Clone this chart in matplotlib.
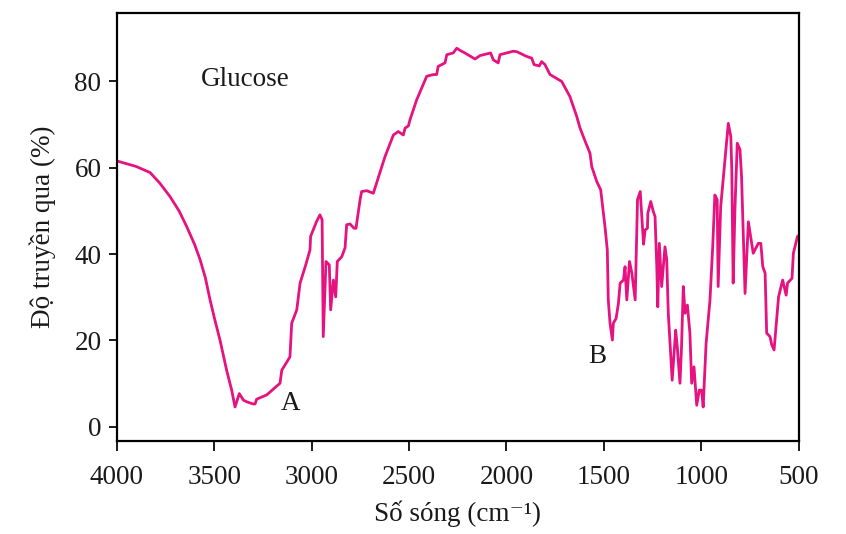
import matplotlib
matplotlib.use("Agg")
import matplotlib.pyplot as plt

plt.rcParams['font.family'] = ['Liberation Serif', 'DejaVu Serif']

# so song (cm-1) va do truyen qua (%) doc tu pho IR cua glucose
so_song = [4000, 3900, 3829, 3780, 3726, 3680, 3641, 3600, 3572, 3545, 3521, 3495,
           3470, 3436, 3410, 3393, 3371, 3350, 3333, 3300, 3290, 3282, 3230, 3162,
           3153, 3130, 3111, 3102, 3076, 3059, 3030, 3008, 3005, 2975, 2957, 2946,
           2940, 2926, 2915, 2909, 2902, 2888, 2876, 2868, 2845, 2828, 2820, 2803,
           2782, 2772, 2751, 2743, 2717, 2683, 2623, 2580, 2555, 2529, 2520, 2503,
           2495, 2460, 2409, 2375, 2358, 2350, 2315, 2306, 2273, 2255, 2238, 2213,
           2161, 2135, 2081, 2067, 2042, 2033, 1965, 1947, 1896, 1870, 1858, 1831,
           1819, 1802, 1776, 1716, 1674, 1639, 1622, 1590, 1571, 1562, 1536, 1516,
           1494, 1482, 1477, 1468, 1456, 1451, 1437, 1425, 1416, 1399, 1391, 1382,
           1368, 1356, 1339, 1327, 1313, 1305, 1296, 1288, 1276, 1274, 1259, 1246,
           1237, 1228, 1223, 1215, 1203, 1186, 1177, 1169, 1149, 1131, 1123, 1109,
           1101, 1092, 1083, 1071, 1058, 1049, 1037, 1023, 1010, 998, 990, 975,
           955, 941, 930, 918, 913, 900, 878, 861, 848, 843, 836, 827,
           815, 801, 793, 775, 758, 733, 707, 694, 684, 672, 664, 647,
           638, 626, 603, 582, 564, 557, 534, 527, 506, 500]
truyen_qua = [61.6, 60.3, 58.9, 56.5, 53.3, 50.0, 46.4, 42.2, 38.7, 34.5, 29.4, 24.5,
              20.1, 13.1, 8.5, 4.6, 7.7, 6.2, 5.8, 5.3, 5.3, 6.4, 7.4, 10.1,
              13.1, 14.8, 16.2, 24.0, 27.1, 33.3, 37.5, 41.0, 44.1, 47.5, 49.1, 48.0,
              20.9, 38.3, 37.8, 37.5, 27.1, 34.0, 30.1, 38.3, 39.4, 41.5, 46.8, 47.0,
              46.0, 46.0, 52.6, 54.5, 54.7, 54.1, 62.6, 67.6, 68.4, 67.6, 69.2, 69.7,
              71.1, 75.8, 81.2, 81.6, 81.6, 83.5, 84.3, 86.2, 86.6, 87.7, 87.2, 86.6,
              85.2, 86.0, 86.6, 85.0, 84.3, 86.2, 87.0, 86.9, 85.8, 85.4, 83.9, 83.6,
              84.6, 83.9, 81.6, 80.0, 76.5, 71.9, 69.2, 65.5, 63.4, 60.3, 56.8, 54.9,
              46.4, 41.0, 29.4, 24.0, 20.1, 24.0, 25.1, 28.6, 33.3, 34.0, 37.1, 29.4,
              38.3, 35.6, 29.4, 52.6, 54.5, 48.7, 42.3, 45.6, 46.0, 49.5, 52.2, 49.9,
              48.7, 37.1, 27.8, 42.5, 32.5, 41.7, 38.7, 26.3, 10.8, 22.4, 18.6, 10.1,
              18.6, 32.5, 26.3, 28.2, 21.7, 10.1, 13.9, 5.0, 8.5, 8.5, 4.6, 19.3,
              29.4, 41.7, 53.7, 52.6, 32.5, 51.0, 61.8, 70.3, 67.2, 59.5, 33.3, 50.2,
              65.7, 64.2, 58.0, 30.9, 47.5, 40.2, 42.5, 42.5, 37.1, 35.6, 21.7, 20.9,
              19.0, 17.8, 30.1, 34.0, 30.5, 33.3, 34.4, 40.2, 44.1, 44.3]

x_ticks = [4000, 3500, 3000, 2500, 2000, 1500, 1000, 500]
y_ticks = [0, 20, 40, 60, 80]

fig = plt.figure(figsize=(8.46, 5.34), dpi=100)
ax = fig.add_axes([0.138, 0.174, 0.806, 0.802])

ax.plot(so_song, truyen_qua, color='#e5127f', linewidth=2.0,
        solid_joinstyle='round')

ax.set_xlim(4000, 500)
ax.set_ylim(-3.3, 95.9)
ax.set_xticks(x_ticks)
ax.set_yticks(y_ticks)

for s in ax.spines.values():
    s.set_linewidth(1.6)
ax.tick_params(axis='both', direction='out', width=1.4, labelsize=19.5, colors='#1a1a1a')
ax.tick_params(axis='x', length=7, pad=10)
ax.tick_params(axis='y', length=6, pad=5)

ax.set_xlabel('Số sóng (cm⁻¹)', fontsize=19.5, color='#1a1a1a', labelpad=8)
ax.set_ylabel('Độ truyền qua (%)', fontsize=19.5, color='#1a1a1a', labelpad=13)

ax.text(3342, 80.4, 'Glucose', fontsize=19.5, ha='center', va='center', color='#1a1a1a')
ax.text(3106, 5.5, 'A', fontsize=19.5, ha='center', va='center', color='#1a1a1a')
ax.text(1531, 16.2, 'B', fontsize=19.5, ha='center', va='center', color='#1a1a1a')

fig.savefig('out.png', dpi=100)
